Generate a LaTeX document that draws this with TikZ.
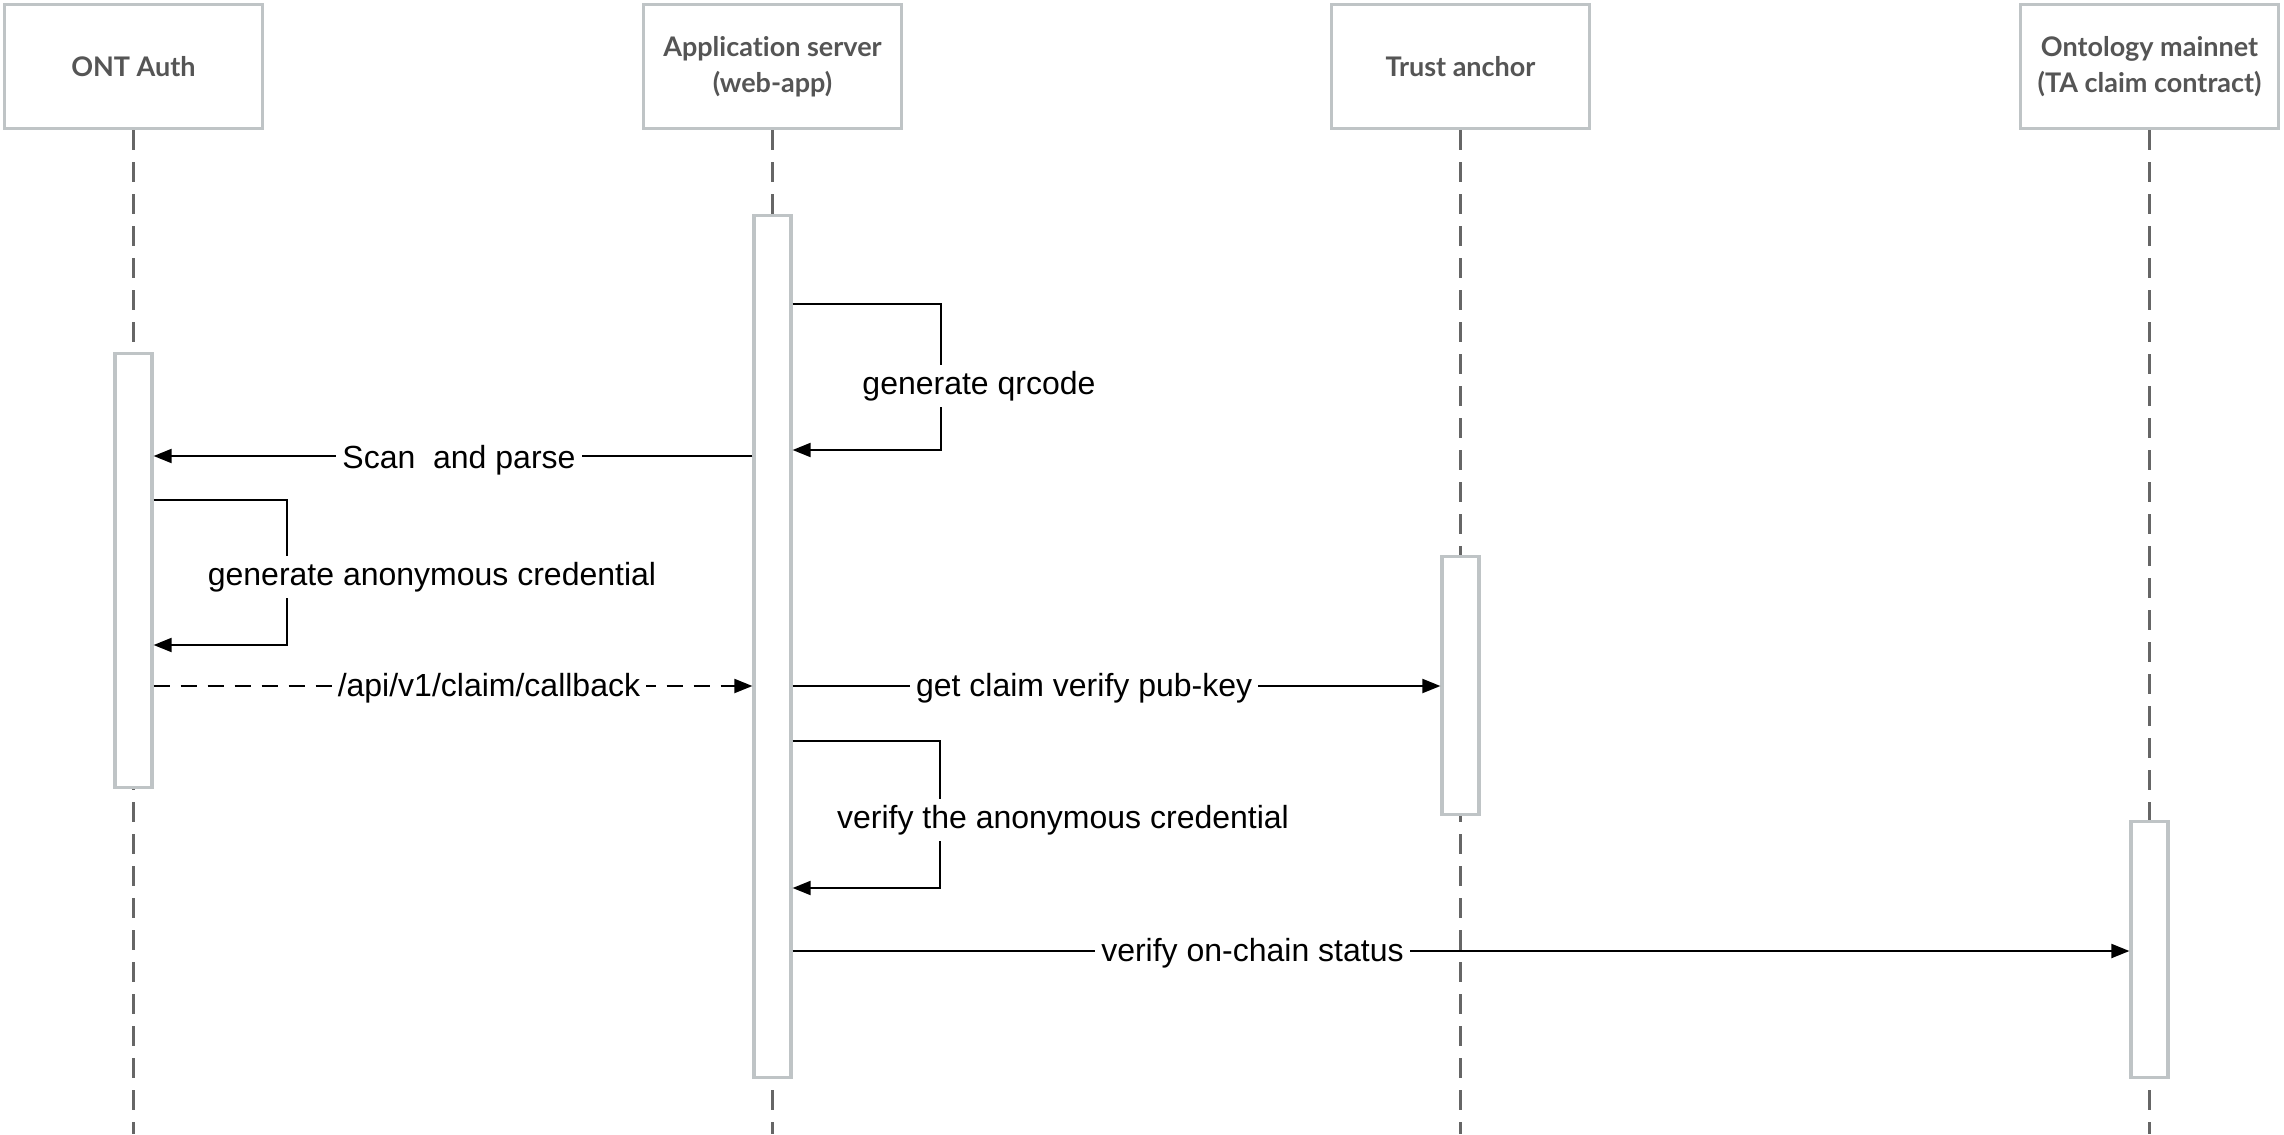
\documentclass[tikz,border=0pt]{standalone}
\usepackage{fontspec}
\setmainfont{Liberation Sans}
\newfontfamily\headfont[Ligatures=NoCommon]{Lato}
\usepackage{xcolor}
\usetikzlibrary{
    arrows.meta,
    calc,
    positioning
}
\definecolor{boxgray}{HTML}{BFC4C6}
\definecolor{linegray}{HTML}{666666}
\definecolor{headgray}{HTML}{555555}

\begin{document}
\begin{tikzpicture}[x=0.5pt, y=-0.5pt,
    actor/.style={draw=boxgray, line width=1.6pt, fill=white, minimum width=129pt, minimum height=62pt,
        align=center, text=headgray, font=\headfont\bfseries\fontsize{13.5}{18}\selectfont},
    lifeline/.style={draw=linegray, line width=1.8pt, dash pattern=on 10pt off 6pt},
    bar/.style={draw=boxgray, line width=1.6pt, fill=white, minimum width=18.5pt, inner sep=0pt},
    msg/.style={draw=black, line width=1pt, -{Triangle[length=9pt, width=7pt]}},
    reply/.style={msg, dash pattern=on 8pt off 5.5pt},
    lbl/.style={fill=white, inner sep=3pt, font=\fontsize{16}{18}\selectfont}]
                        \useasboundingbox (0, 0) rectangle (2284, 1134);
                        \node[actor] (ont) at (133.5, 66.5) {ONT Auth};
                        \node[actor] (app) at (772.5, 66.5) {Application server\\(web-app)};
                        \node[actor] (trust) at (1460.5, 66.5) {Trust anchor};
                        \node[actor] (onto) at (2149.5, 66.5) {Ontology mainnet\\(TA claim contract)};
                        \coordinate (bottom) at (0, 1134);
                        \draw[lifeline]
                        (ont.south) -- (ont.south |- bottom)
                        (app.south) -- (app.south |- bottom)
                        (trust.south) -- (trust.south |- bottom)
                        (onto.south) -- (onto.south |- bottom);
                        \node[bar, minimum height=217pt] (ontbar) at (ont |- 0, 570.5) {};
                        \node[bar, minimum height=431pt] (appbar) at (app |- 0, 646.5) {};
                        \node[bar, minimum height=129pt] (trustbar) at (trust |- 0, 685.5) {};
                        \node[bar, minimum height=128pt] (ontobar) at (onto |- 0, 949.5) {};
                        \coordinate (qrtop) at (0, 304);
                        \coordinate (qrbot) at (0, 450);
                        \coordinate (scan) at (0, 456);
                        \coordinate (gentop) at (0, 500);
                        \coordinate (genbot) at (0, 645);
                        \coordinate (cb) at (0, 686);
                        \coordinate (vertop) at (0, 741);
                        \coordinate (verbot) at (0, 888);
                        \coordinate (chain) at (0, 951);
                        \draw[msg] (appbar.east |- qrtop) -- (941, 304) |- (appbar.east |- qrbot);
                        \node[lbl] (qrlbl) at (979, 386) {generate qrcode};
                        \draw[msg] (appbar.west |- scan) -- node[lbl, pos=0.49, yshift=-2pt] (scanlbl) {Scan\ \ and parse} (ontbar.east |- scan);
                        \draw[msg] (ontbar.east |- gentop) -- (287, 500) |- (ontbar.east |- genbot);
                        \node[lbl] (genlbl) at (432, 577) {generate anonymous credential};
                        \draw[reply] (ontbar.east |- cb) -- node[lbl, pos=0.56, yshift=-1pt] (cblbl) {/api/v1/claim/callback} (appbar.west |- cb);
                        \draw[msg] (appbar.east |- cb) -- node[lbl, pos=0.45, yshift=-1pt] (keylbl) {get claim verify pub-key} (trustbar.west |- cb);
                        \draw[msg] (appbar.east |- vertop) -- (940, 741) |- (appbar.east |- verbot);
                        \node[lbl] (verlbl) at (1063, 820) {verify the anonymous credential};
                        \draw[msg] (appbar.east |- chain) -- node[lbl, pos=0.344, yshift=-1pt] (chainlbl) {verify on-chain status} (ontobar.west |- chain);
                    \end{tikzpicture}
\end{document}
